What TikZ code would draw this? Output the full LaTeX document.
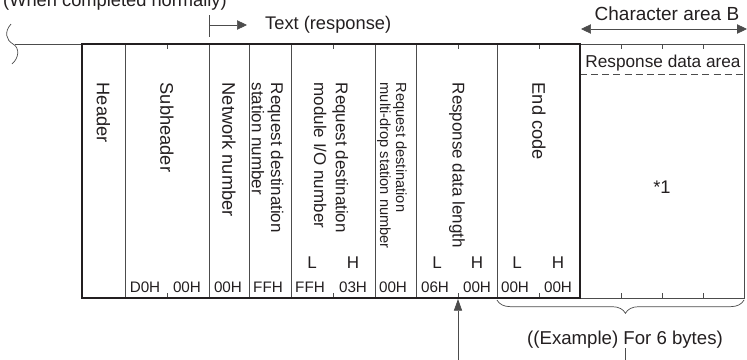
\documentclass[tikz,border=0pt]{standalone}
\usepackage{fontspec}
\setmainfont{Liberation Sans}
\usetikzlibrary{arrows.meta, positioning, decorations.pathreplacing}

\definecolor{inkc}{HTML}{231F20}
\tikzset{
  field/.style={rotate=-90, anchor=west, inner sep=0pt, align=left, text=inkc,
                font=\fontsize{15.6}{18}\selectfont},
  fieldsm/.style={field, font=\fontsize{14.5}{17.5}\selectfont},
  hexval/.style={inner sep=0pt, text=inkc, font=\fontsize{13}{15}\selectfont},
  byteside/.style={inner sep=0pt, text=inkc, font=\fontsize{14.5}{17}\selectfont},
  thinline/.style={line width=0.6pt, black!70},
  tip/.style={-{Triangle[length=8.5pt, width=8pt]}},
}

\begin{document}
\begin{tikzpicture}[x=0.03cm, y=-0.03cm, font=\fontsize{15.6}{18}\selectfont]
\useasboundingbox (0,0) rectangle (747,360);
\clip (0,0) rectangle (747,360);

% =============== HEADINGS ===============
\node[anchor=base west, inner sep=0pt, text=inkc] (title) at (3,6.5) {(When completed normally)};
\coordinate (txtbartop) at (209,15);
\coordinate (txtbarbot) at (209,37);
\coordinate (txtfrom) at (209,25);
\coordinate (txtto) at (247,25);
\draw[thinline] (txtbartop) -- (txtbarbot);
\draw[thinline, tip] (txtfrom) -- (txtto);
\node[anchor=west, inner sep=0pt, text=inkc] (txtlbl) at (265,25) {Text (response)};

\node[inner sep=0pt, text=inkc, font=\fontsize{16.2}{18}\selectfont] (areab) at (667,14) {Character area B};
\coordinate (areabl) at (581,29);
\coordinate (areabr) at (747,29);
\draw[thinline, {Triangle[length=8.5pt, width=8pt]}-{Triangle[length=8.5pt, width=8pt]}] (areabl) -- (areabr);

% =============== FRAME ===============
\draw[thinline] (11,24) .. controls (4,32) and (6,40) .. (13,44)
                        .. controls (20,48) and (19,58) .. (12,64);
\draw[thinline] (15,44) -- (82,44);
% data area (right)
\draw[thinline] (580,44) -- (744,44) -- (744,298) -- (580,298);
\node[inner sep=0pt, text=inkc, font=\fontsize{14.7}{17}\selectfont] (resparea) at (663,63) {Response data area};
\draw[thinline, dash pattern=on 6pt off 3.5pt] (580,74) -- (744,74);
\node[inner sep=0pt, text=inkc] (note1) at (662,187) {*1};
% field dividers
\foreach \x in {125.7,209,249.3,291,375,416.7,497.3}
  \draw[thinline] (\x,44) -- (\x,298);
% byte ticks
\foreach \x in {167,333,458,539,621,662,703}{
  \draw[thinline] (\x,44) -- (\x,48.5);
  \draw[thinline] (\x,298) -- (\x,293);
}
\draw[line width=1.6pt, inkc] (82,44) rectangle (580,298);

% =============== FIELDS ===============
\node[field] (hdr) at (103.5,82.5) {Header};
\node[field] (subhdr) at (167,82.5) {Subheader};
\node[field] (netno) at (229,82.5) {Network number};
\node[fieldsm, font=\fontsize{14.5}{16.5}\selectfont] (stno) at (267.5,82.5) {Request destination\\station number};
\node[fieldsm, font=\fontsize{14.5}{18.5}\selectfont] (modno) at (331,82.5) {Request destination\\module I/O number};
\node[fieldsm, font=\fontsize{12.5}{13.7}\selectfont] (mdno) at (392,82.5) {Request destination\\multi-drop station number};
\node[fieldsm] (rdlen) at (457,82.5) {Response data length};
\node[field] (endcd) at (539,82.5) {End code};

% byte values
\foreach \x/\v [count=\i] in {145/D0H,187/00H,228/00H,268/FFH,310/FFH,353/03H,
                              393/00H,435/06H,477/00H,515/00H,558/00H}
  \node[hexval] (byte\i) at (\x,287) {\v};
\foreach \x/\s [count=\i] in {312/L,353/H,437/L,477/H,517/L,558/H}
  \node[byteside] (side\i) at (\x,263) {\s};

% =============== NOTES ===============
\draw[thinline, decorate, decoration={brace, mirror, amplitude=0.4cm, aspect=0.52}]
  (497,300) -- (744,300);
\node[anchor=base, inner sep=0pt, text=inkc, font=\fontsize{15.9}{18}\selectfont] (example) at (625,344) {((Example) For 6 bytes)};
\coordinate (exhead) at (625,348);
\coordinate (exfoot) at (625,360);
\draw[thinline] (exhead) -- (exfoot);
\coordinate (lentick) at (458,299);
\coordinate (lenfoot) at (458,360);
\draw[thinline, -{Triangle[length=10pt, width=7pt]}] (lenfoot) -- (lentick);

\end{tikzpicture}
\end{document}
